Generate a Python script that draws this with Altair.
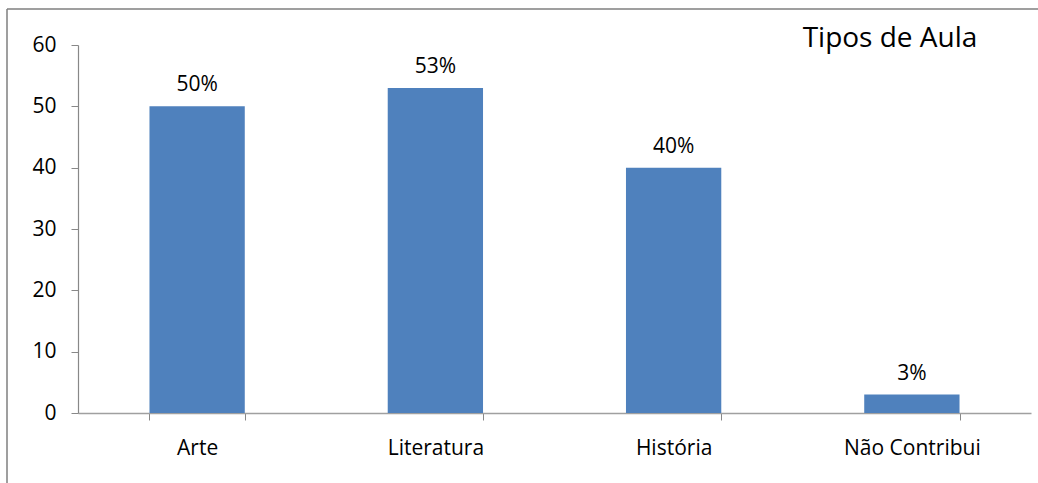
import altair as alt
import pandas as pd

# Survey results: share of answers per lesson type
categories = ["Arte", "Literatura", "História", "Não Contribui"]
values = [50, 53, 40, 3]
labels = ["50%", "53%", "40%", "3%"]
y_ticks = [0, 10, 20, 30, 40, 50, 60]

df = pd.DataFrame({"categoria": categories, "valor": values, "rotulo": labels})

FONT = "Open Sans"
FS = 21
W, H = 953, 368
PAD_L, PAD_T, PAD_R, PAD_B = 78, 45, 7, 70

x_enc = alt.X(
    "categoria:N",
    sort=categories,
    scale=alt.Scale(paddingInner=0.6, paddingOuter=0.3),
    axis=alt.Axis(
        title=None,
        labelAngle=0,
        tickBand="extent",
        tickSize=7,
        tickColor="#888888",
        domainColor="#a0a0a0",
        domainWidth=1.5,
        labelFontSize=FS,
        labelFont=FONT,
        labelColor="#000000",
        labelPadding=17,
    ),
)
y_enc = alt.Y(
    "valor:Q",
    scale=alt.Scale(domain=[0, 60], nice=False),
    axis=alt.Axis(
        title=None,
        values=y_ticks,
        grid=False,
        tickSize=7,
        tickColor="#888888",
        domainColor="#888888",
        domainWidth=1.2,
        labelFontSize=FS,
        labelFont=FONT,
        labelColor="#000000",
        labelPadding=15,
    ),
)

bars = alt.Chart(df).mark_bar(color="#4F81BD").encode(x=x_enc, y=y_enc)

bar_text = alt.Chart(df).mark_text(
    baseline="bottom", dy=-11, fontSize=FS, font=FONT, color="#000000"
).encode(x=alt.X("categoria:N", sort=categories), y="valor:Q", text="rotulo:N")

one = alt.Data(values=[{}])

title = alt.Chart(one).mark_text(
    text="Tipos de Aula", fontSize=28, font=FONT, color="#000000",
    align="center", baseline="middle",
).encode(x=alt.value(812), y=alt.value(-6))

# outer frame: top and left border lines
frame_top = alt.Chart(one).mark_rule(color="#7f7f7f", strokeWidth=1.5).encode(
    x=alt.value(-PAD_L + 7), x2=alt.value(W + PAD_R + 10), y=alt.value(-PAD_T + 9)
)
frame_left = alt.Chart(one).mark_rule(color="#7f7f7f", strokeWidth=1.5).encode(
    x=alt.value(-PAD_L + 7), y=alt.value(-PAD_T + 9), y2=alt.value(H + PAD_B + 10)
)

chart = (
    alt.layer(bars, bar_text, title, frame_top, frame_left)
    .properties(
        width=W,
        height=H,
        autosize=alt.AutoSizeParams(type="none"),
        padding={"left": PAD_L, "top": PAD_T, "right": PAD_R, "bottom": PAD_B},
        background="#ffffff",
    )
    .configure_view(stroke=None)
)

chart.save("out.html", embed_options={"renderer": "svg", "actions": False})
